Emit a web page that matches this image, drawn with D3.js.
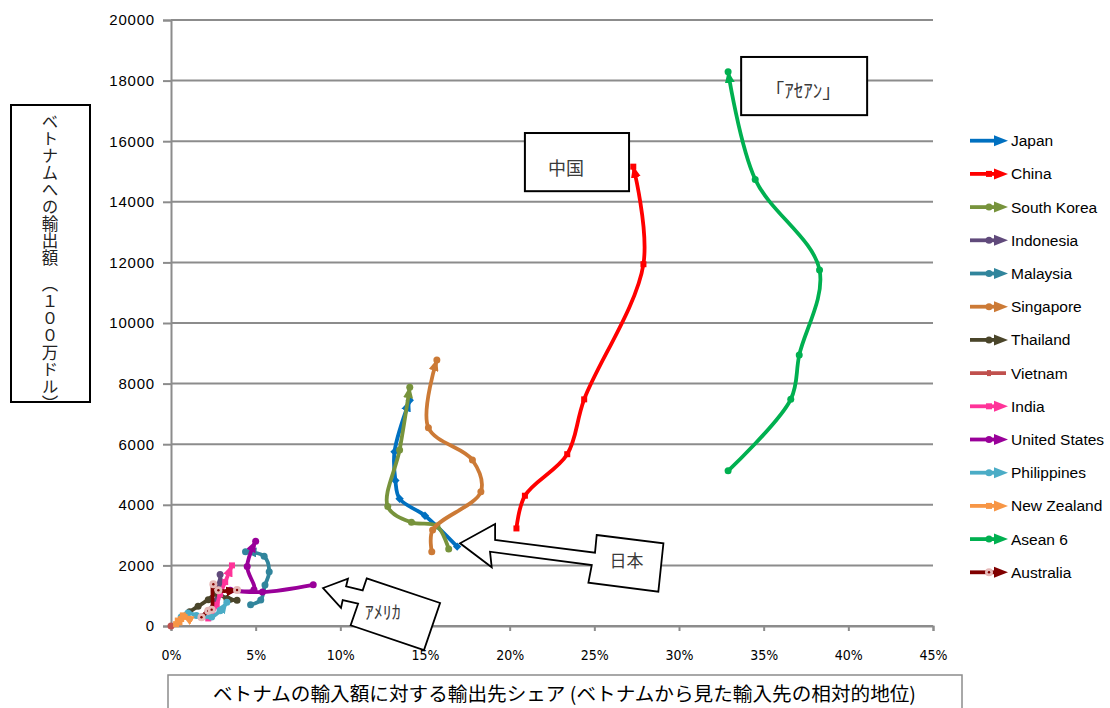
<!DOCTYPE html>
<html>
<head>
<meta charset="utf-8">
<script src="https://cdn.jsdelivr.net/npm/d3@7"></script>
<style>
  html, body { margin: 0; padding: 0; background: #fff; }
  svg { display: block; }
</style>
</head>
<body>
<svg id="chart" width="1110" height="708"></svg>
<script>
// Export share in Vietnam's imports (%) and exports to Vietnam (US$ 100 million units), six yearly points each
const countries = ["Japan", "China", "South Korea", "Indonesia", "Malaysia", "Singapore", "Thailand",
                   "Vietnam", "India", "United States", "Philippines", "New Zealand", "Asean 6", "Australia"];

const japanShare        = [16.9, 15.0, 13.5, 13.25, 13.2, 14.1];
const japanExport       = [2620, 3640, 4200, 4800, 5750, 7450];
const chinaShare        = [20.4, 20.9, 23.4, 24.4, 27.9, 27.3];
const chinaExport       = [3220, 4300, 5670, 7480, 11940, 15160];
const koreaShare        = [16.4, 15.7, 14.2, 12.8, 13.5, 14.1];
const koreaExport       = [2540, 3300, 3420, 3940, 5810, 7880];
const indonesiaShare    = [1.8, 2.2, 2.6, 2.8, 2.9, 2.9];
const indonesiaExport   = [300, 500, 800, 1100, 1350, 1700];
const malaysiaShare     = [4.7, 5.3, 5.55, 5.8, 5.5, 4.4];
const malaysiaExport    = [700, 860, 1350, 1790, 2300, 2450];
const singaporeShare    = [15.4, 15.45, 18.3, 17.8, 15.2, 15.7];
const singaporeExport   = [2450, 3170, 4430, 5480, 6540, 8780];
const thailandShare     = [1.1, 1.6, 2.2, 2.7, 3.3, 3.9];
const thailandExport    = [470, 650, 870, 1080, 900, 850];
const vietnamShare      = [0];
const vietnamExport     = [0];
const indiaShare        = [2.2, 2.4, 2.7, 2.9, 3.2, 3.6];
const indiaExport       = [250, 400, 700, 1050, 1450, 2000];
const usShare           = [8.4, 5.4, 3.5, 4.9, 4.5, 5.0];
const usExport          = [1360, 1120, 1180, 1200, 1960, 2800];
const philippinesShare  = [0.6, 1.0, 1.5, 2.4, 2.9, 3.3];
const philippinesExport = [300, 430, 350, 300, 500, 780];
const nzShare           = [0.3, 0.5, 0.4, 0.6, 0.8, 0.7];
const nzExport          = [60, 120, 180, 230, 300, 350];
const aseanShare        = [32.9, 36.6, 37.1, 38.3, 34.5, 32.9];
const aseanExport       = [5120, 7480, 8940, 11750, 14740, 18290];
const australiaShare    = [1.8, 2.2, 2.4, 2.5, 2.8, 3.9];
const australiaExport   = [290, 500, 540, 1380, 1180, 1190];

const shareLists  = [japanShare, chinaShare, koreaShare, indonesiaShare, malaysiaShare, singaporeShare, thailandShare,
                     vietnamShare, indiaShare, usShare, philippinesShare, nzShare, aseanShare, australiaShare];
const exportLists = [japanExport, chinaExport, koreaExport, indonesiaExport, malaysiaExport, singaporeExport, thailandExport,
                     vietnamExport, indiaExport, usExport, philippinesExport, nzExport, aseanExport, australiaExport];

const colors = ["#0070C0", "#FF0000", "#77933C", "#604A7B", "#31859C", "#CC7A36", "#4A452A",
                "#C0504D", "#FF3399", "#990099", "#4BACC6", "#F79646", "#00B050", "#800000"];
const symbols = ["diamond", "square", "circle", "circle", "circle", "circle", "circle",
                 "circle", "square", "circle", "circle", "square", "circle", "ring"];

const xTicks = [0, 5, 10, 15, 20, 25, 30, 35, 40, 45];
const yTicks = [0, 2000, 4000, 6000, 8000, 10000, 12000, 14000, 16000, 18000, 20000];

const xTitle = "ベトナムの輸入額に対する輸出先シェア (ベトナムから見た輸入先の相対的地位)";
const yTitle = "ベトナムへの輸出額　（１００万ドル）";

const series = countries.map((name, i) => ({
  name, color: colors[i], symbol: symbols[i],
  points: shareLists[i].map((s, j) => [s, exportLists[i][j]])
}));

const svg = d3.select("#chart");
const W = 1110, H = 708;
const x = d3.scaleLinear().domain([0, 45]).range([171, 933]);
const y = d3.scaleLinear().domain([0, 20000]).range([626, 20]);
const gridColor = "#8c8c8c";

svg.append("rect").attr("width", W).attr("height", H).attr("fill", "#fff");

// horizontal gridlines
svg.append("g").selectAll("line").data(yTicks).join("line")
  .attr("x1", x(0)).attr("x2", x(45))
  .attr("y1", d => y(d)).attr("y2", d => y(d))
  .attr("stroke", gridColor).attr("stroke-width", 2);

// y axis
const yAxis = svg.append("g").attr("transform", `translate(${x(0)},0)`)
  .call(d3.axisLeft(y).tickValues(yTicks).tickSize(8).tickPadding(8).tickFormat(d3.format("d")));
yAxis.select(".domain").attr("stroke", gridColor).attr("stroke-width", 2);
yAxis.selectAll(".tick line").attr("stroke", gridColor).attr("stroke-width", 2);
yAxis.selectAll(".tick text").attr("font-family", "'Liberation Sans', Arial, sans-serif")
  .attr("font-size", 15).attr("letter-spacing", 0.8).attr("fill", "#000");

// x axis
const xAxis = svg.append("g").attr("transform", `translate(0,${y(0)})`)
  .call(d3.axisBottom(x).tickValues(xTicks).tickSize(5).tickPadding(19).tickFormat(d => d + "%"));
xAxis.select(".domain").attr("stroke", gridColor).attr("stroke-width", 2);
xAxis.selectAll(".tick line").attr("stroke", gridColor).attr("stroke-width", 2);
xAxis.selectAll(".tick text").attr("font-family", "'Liberation Sans Narrow', 'DejaVu Sans Condensed', 'Liberation Sans', sans-serif")
  .attr("font-stretch", "condensed").attr("font-size", 14).attr("fill", "#000");

// arrowheads, one per series colour
const defs = svg.append("defs");
series.forEach((s, i) => {
  defs.append("marker").attr("id", "arrow" + i)
    .attr("viewBox", "0 -5 12 10").attr("refX", 11).attr("refY", 0)
    .attr("markerWidth", 12).attr("markerHeight", 10)
    .attr("markerUnits", "userSpaceOnUse").attr("orient", "auto")
    .append("path").attr("d", "M0,-5L12,0L0,5Z").attr("fill", s.color);
});

const line = d3.line().x(d => x(d[0])).y(d => y(d[1])).curve(d3.curveCatmullRom.alpha(0.5));

function drawSymbol(g, cx, cy, s, size) {
  if (s.symbol === "square") {
    g.append("rect").attr("x", cx - size / 2).attr("y", cy - size / 2)
      .attr("width", size).attr("height", size).attr("fill", s.color);
  } else if (s.symbol === "diamond") {
    const r = size * 0.7;
    g.append("path").attr("d", `M${cx},${cy - r}L${cx + r},${cy}L${cx},${cy + r}L${cx - r},${cy}Z`).attr("fill", s.color);
  } else if (s.symbol === "ring") {
    g.append("circle").attr("cx", cx).attr("cy", cy).attr("r", size / 2 + 1).attr("fill", "#E6B9B8");
    g.append("circle").attr("cx", cx).attr("cy", cy).attr("r", 1.2).attr("fill", "#800000");
  } else {
    g.append("circle").attr("cx", cx).attr("cy", cy).attr("r", size / 2 + 0.5).attr("fill", s.color);
  }
}

// series paths
const plot = svg.append("g");
series.forEach((s, i) => {
  const g = plot.append("g");
  if (s.points.length > 1) {
    g.append("path").attr("d", line(s.points)).attr("fill", "none")
      .attr("stroke", s.color).attr("stroke-width", 3.8)
      .attr("stroke-linejoin", "round").attr("stroke-linecap", "round")
      .attr("marker-end", `url(#arrow${i})`);
  }
  s.points.forEach(p => drawSymbol(g, x(p[0]), y(p[1]), s, 6));
});

// legend
const legend = svg.append("g");
series.forEach((s, i) => {
  const ly = 140.7 + i * 33.2;
  const g = legend.append("g");
  if (s.name === "Vietnam") {
    g.append("line").attr("x1", 970).attr("x2", 1006).attr("y1", ly).attr("y2", ly)
      .attr("stroke", s.color).attr("stroke-width", 3.8);
    g.append("rect").attr("x", 987).attr("y", ly - 3).attr("width", 4).attr("height", 6).attr("fill", s.color);
  } else {
    g.append("line").attr("x1", 970).attr("x2", 996).attr("y1", ly).attr("y2", ly)
      .attr("stroke", s.color).attr("stroke-width", 3.8);
    g.append("path").attr("d", `M994,${ly - 5.5}L1008,${ly}L994,${ly + 5.5}Z`).attr("fill", s.color);
    if (s.name !== "Japan") drawSymbol(g, 989, ly, s, 6);
  }
  g.append("text").attr("x", 1011).attr("y", ly + 5.4).text(s.name)
    .attr("font-family", "'Liberation Sans', Arial, sans-serif").attr("font-size", 15.5).attr("fill", "#000");
});

// boxed labels and callouts
const note = svg.append("g");
const labelFont = "'Noto Sans CJK JP', sans-serif";

function boxLabel(x0, x1, y0, y1, text, size, dx, dy) {
  note.append("rect").attr("x", x(x0)).attr("y", y(y0))
    .attr("width", x(x1) - x(x0)).attr("height", y(y1) - y(y0))
    .attr("fill", "#fff").attr("stroke", "#000").attr("stroke-width", 2);
  note.append("text").attr("x", (x(x0) + x(x1)) / 2 + dx).attr("y", (y(y0) + y(y1)) / 2 + dy)
    .attr("text-anchor", "middle").attr("dominant-baseline", "central")
    .attr("font-family", labelFont).attr("font-size", size).attr("fill", "#3a3a3a").text(text);
}
boxLabel(20.9, 27.05, 16270, 14350, "中国", 18, -11, 5);
boxLabel(33.67, 41.11, 18780, 16860, "｢ｱｾｱﾝ｣", 19, -1, 3);

function callout(pts, tx, ty, text, size) {
  note.append("path")
    .attr("d", "M" + pts.map(p => `${x(p[0])},${y(p[1])}`).join("L") + "Z")
    .attr("fill", "#fff").attr("stroke", "#000").attr("stroke-width", 1.8).attr("stroke-linejoin", "miter");
  note.append("text").attr("x", x(tx)).attr("y", y(ty))
    .attr("text-anchor", "middle").attr("dominant-baseline", "central")
    .attr("font-family", labelFont).attr("font-size", size).attr("fill", "#3a3a3a").text(text);
}
// 日本: arrow pointing from the label box toward the Japan start point
callout([[25.14, 3003], [29.08, 2729], [28.78, 1132], [24.65, 1429], [24.85, 2013], [18.84, 2452],
         [18.94, 1937], [17.07, 2729], [19.14, 3366], [19.14, 2838], [25.04, 2419]],
        26.9, 2200, "日本", 17);
// アメリカ: arrow pointing toward the United States point
callout([[11.56, 1574], [15.89, 759], [14.94, -792], [10.61, 23], [11.05, 736], [10.14, 858],
         [10.04, 601], [8.98, 1254], [10.45, 1564], [10.34, 1307], [11.32, 1175]],
        12.5, 500, "ｱﾒﾘｶ", 18);

// y axis title, set vertically
svg.append("rect").attr("x", 11).attr("y", 105).attr("width", 79).attr("height", 297)
  .attr("fill", "#fff").attr("stroke", "#000").attr("stroke-width", 2);
svg.append("text").attr("x", 50).attr("y", 113).text(yTitle)
  .style("writing-mode", "vertical-rl")
  .attr("font-family", labelFont).attr("font-size", 16.5).attr("letter-spacing", 0.6)
  .attr("fill", "#222");

// x axis title
svg.append("rect").attr("x", 168).attr("y", 675).attr("width", 794).attr("height", 40)
  .attr("fill", "#fff").attr("stroke", "#8c8c8c").attr("stroke-width", 1.5);
svg.append("text").attr("x", 213).attr("y", 701).text(xTitle)
  .attr("font-family", labelFont).attr("font-size", 19).attr("fill", "#000")
  .attr("textLength", 703).attr("lengthAdjust", "spacingAndGlyphs");
</script>
</body>
</html>
